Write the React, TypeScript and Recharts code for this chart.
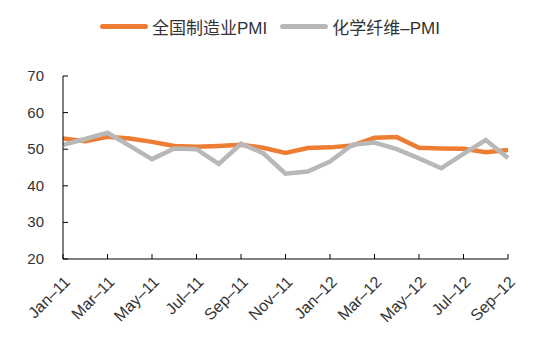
import React from "react";
import { LineChart, Line, XAxis, YAxis, Legend } from "recharts";

const MONTHS = [
  "Jan–11", "Feb–11", "Mar–11", "Apr–11", "May–11", "Jun–11", "Jul–11",
  "Aug–11", "Sep–11", "Oct–11", "Nov–11", "Dec–11", "Jan–12", "Feb–12",
  "Mar–12", "Apr–12", "May–12", "Jun–12", "Jul–12", "Aug–12", "Sep–12",
];

const PMI = [
  52.9, 52.2, 53.4, 52.9, 52.0, 50.9, 50.7, 50.9, 51.2, 50.4, 49.0,
  50.3, 50.5, 51.0, 53.1, 53.3, 50.4, 50.2, 50.1, 49.2, 49.8,
];

const FIBER_PMI = [
  51.2, 52.8, 54.5, 50.9, 47.3, 50.2, 50.0, 46.0, 51.5, 48.9, 43.3,
  43.9, 46.6, 51.2, 51.8, 50.0, 47.5, 44.8, 48.7, 52.5, 47.6,
];

const Y_TICKS = [20, 30, 40, 50, 60, 70];

const SERIES = [
  { key: "pmi", name: "全国制造业PMI", color: "#EE7D34" },
  { key: "fiber", name: "化学纤维–PMI", color: "#B8B8B8" },
];

const data = MONTHS.map((m, i) => ({
  month: m,
  pmi: PMI[i],
  fiber: FIBER_PMI[i],
}));

const FONT = "'Liberation Sans', Arial, 'Noto Sans CJK SC', sans-serif";

const YTick = (props: any) => {
  const { x, y, payload } = props;
  return (
    <g>
      <line x1={x} y1={y} x2={x + 5} y2={y} stroke="#000" strokeWidth={1} />
      <text
        x={x - 19}
        y={y}
        dy={5}
        textAnchor="end"
        fontSize={15}
        fill="#333"
        fontFamily={FONT}
      >
        {payload.value}
      </text>
    </g>
  );
};

const XTick = (props: any) => {
  const { x, y, payload } = props;
  return (
    <g>
      <line x1={x} y1={y} x2={x} y2={y - 5} stroke="#000" strokeWidth={1} />
      <g transform={`translate(${x + 8}, ${y + 24}) rotate(-45)`}>
        <text
          x={0}
          y={0}
          textAnchor="end"
          fontSize={16}
          fill="#333"
          fontFamily={FONT}
        >
          {payload.value}
        </text>
      </g>
    </g>
  );
};

const LegendContent = () => (
  <div
    style={{
      display: "flex",
      alignItems: "center",
      height: 26,
      paddingLeft: 100,
      fontFamily: FONT,
      fontSize: 17,
      color: "#333",
    }}
  >
    {SERIES.map((s, i) => (
      <div
        key={s.key}
        style={{ display: "flex", alignItems: "center", marginRight: i === 0 ? 13 : 0 }}
      >
        <div
          style={{
            width: 48,
            height: 5,
            borderRadius: 3,
            background: s.color,
            marginRight: 4,
          }}
        />
        <span>{s.name}</span>
      </div>
    ))}
  </div>
);

export default function App() {
  return (
    <div style={{ position: "absolute", left: 0, top: 0, background: "#fff" }}>
      <LineChart
        width={541}
        height={364}
        data={data}
        margin={{ top: 50, right: 33, bottom: 0, left: 0 }}
      >
        <Legend
          verticalAlign="top"
          content={<LegendContent />}
          wrapperStyle={{ top: 13, left: 0, width: 541 }}
        />
        <XAxis
          dataKey="month"
          interval={1}
          axisLine={{ stroke: "#000", strokeWidth: 1 }}
          tickLine={false}
          tickSize={0}
          tickMargin={0}
          height={105}
          tick={<XTick />}
        />
        <YAxis
          domain={[20, 70]}
          ticks={Y_TICKS}
          width={63}
          axisLine={{ stroke: "#000", strokeWidth: 1 }}
          tickLine={false}
          tickSize={0}
          tickMargin={0}
          tick={<YTick />}
        />
        {SERIES.map((s) => (
          <Line
            key={s.key}
            dataKey={s.key}
            name={s.name}
            stroke={s.color}
            strokeWidth={4.5}
            dot={false}
            type="linear"
            strokeLinejoin="miter"
            isAnimationActive={false}
          />
        ))}
      </LineChart>
    </div>
  );
}
